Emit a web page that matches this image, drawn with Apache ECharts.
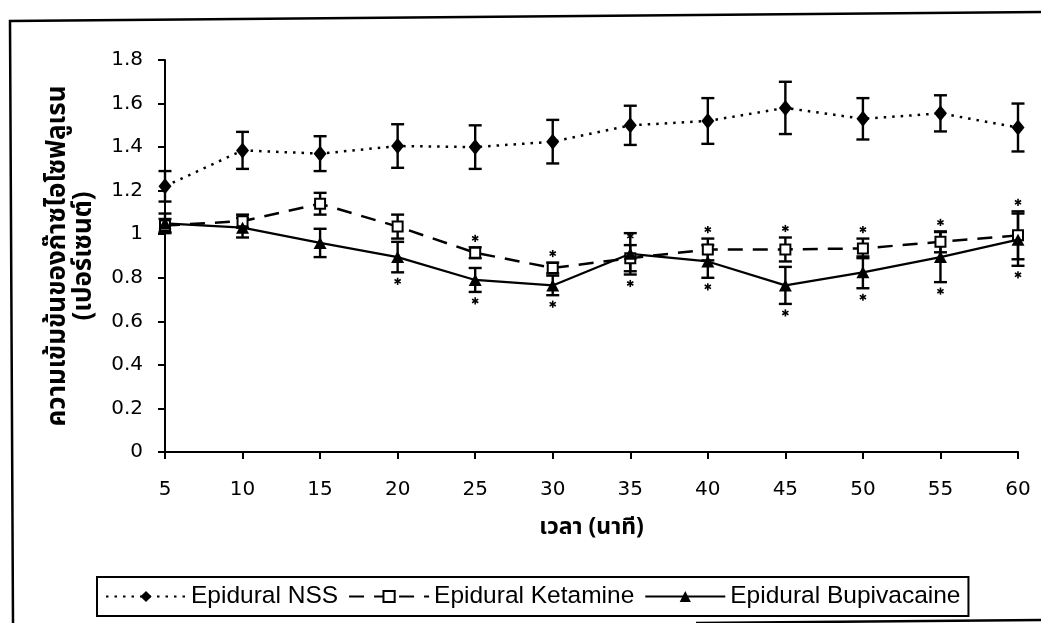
<!DOCTYPE html>
<html>
<head>
<meta charset="utf-8">
<script src="https://cdn.jsdelivr.net/npm/echarts@6/dist/echarts.min.js"></script>
<style>
  html, body { margin: 0; padding: 0; background: #fff; }
  #chart { width: 1041px; height: 623px; }
</style>
</head>
<body>
<div id="chart"></div>
<script>
// Time points (minutes)
const categories = ['5', '10', '15', '20', '25', '30', '35', '40', '45', '50', '55', '60'];

// Mean isoflurane concentration (%) and error (±) per group
const nssMean = [1.22, 1.385, 1.37, 1.405, 1.40, 1.425, 1.50, 1.52, 1.58, 1.53, 1.555, 1.49];
const nssErr  = [0.07, 0.085, 0.08, 0.10, 0.10, 0.10, 0.09, 0.105, 0.12, 0.095, 0.083, 0.11];

const ketMean = [1.04, 1.06, 1.14, 1.035, 0.915, 0.845, 0.89, 0.93, 0.93, 0.935, 0.965, 0.995];
const ketErr  = [0.03, 0.03, 0.05, 0.055, 0.025, 0.025, 0.06, 0.05, 0.055, 0.045, 0.048, 0.11];

const bupMean = [1.05, 1.03, 0.96, 0.895, 0.79, 0.765, 0.91, 0.875, 0.765, 0.825, 0.895, 0.975];
const bupErr  = [0.045, 0.045, 0.065, 0.07, 0.055, 0.045, 0.095, 0.075, 0.085, 0.073, 0.115, 0.12];

// Significance flags (1 = marked with an asterisk)
const ketSig = [0, 0, 0, 0, 1, 1, 1, 1, 1, 1, 1, 1];
const bupSig = [0, 0, 0, 1, 1, 1, 1, 1, 1, 1, 1, 1];

const yTicks = { min: 0, max: 1.8, interval: 0.2 };

const seriesNames = ['Epidural NSS', 'Epidural Ketamine', 'Epidural Bupivacaine'];

function errData(mean, err) {
  return mean.map((m, i) => [i, m - err[i], m + err[i]]);
}

function renderErr(params, api) {
  const x = api.value(0);
  const top = api.coord([x, api.value(2)]);
  const bot = api.coord([x, api.value(1)]);
  const hw = 6.5;
  const st = { stroke: '#000', lineWidth: 2.4 };
  return {
    type: 'group',
    children: [
      { type: 'line', shape: { x1: top[0], y1: top[1], x2: bot[0], y2: bot[1] }, style: st },
      { type: 'line', shape: { x1: top[0] - hw, y1: top[1], x2: top[0] + hw, y2: top[1] }, style: st },
      { type: 'line', shape: { x1: bot[0] - hw, y1: bot[1], x2: bot[0] + hw, y2: bot[1] }, style: st }
    ]
  };
}

// Asterisk above (dir=-1) or below (dir=1) an error bar end
function starData(mean, err, sig, dir) {
  const out = [];
  sig.forEach((s, i) => {
    if (s) out.push([i, dir < 0 ? mean[i] + err[i] : mean[i] - err[i], dir]);
  });
  return out;
}

function renderStar(params, api) {
  const x = api.value(0);
  const p = api.coord([x, api.value(1)]);
  const cx = p[0];
  const cy = p[1] + api.value(2) * 9;
  const r = 3.6;
  const st = { stroke: '#000', lineWidth: 1.6 };
  const kids = [];
  [90, 30, 150].forEach(a => {
    const rad = a * Math.PI / 180;
    const dx = Math.cos(rad) * r, dy = Math.sin(rad) * r;
    kids.push({ type: 'line', shape: { x1: cx - dx, y1: cy - dy, x2: cx + dx, y2: cy + dy }, style: st });
  });
  return { type: 'group', children: kids };
}

const chart = echarts.init(document.getElementById('chart'), null, { renderer: 'canvas' });

const tickFont = { fontFamily: 'DejaVu Sans', fontSize: 20, color: '#000' };
const thaiFont = 'Noto Sans Thai, Noto Sans, sans-serif';

chart.setOption({
  backgroundColor: '#fff',
  animation: false,
  grid: { left: 165, right: 23, top: 60, bottom: 171, containLabel: false },
  xAxis: {
    type: 'category',
    data: categories,
    boundaryGap: false,
    axisLine: { show: true, lineStyle: { color: '#000', width: 2 } },
    axisTick: { show: true, alignWithLabel: true, length: 7, lineStyle: { color: '#000', width: 2 } },
    axisLabel: Object.assign({ margin: 28 }, tickFont),
    splitLine: { show: false },
    name: 'เวลา (นาที)',
    nameLocation: 'middle',
    nameGap: 66,
    nameTextStyle: { fontFamily: thaiFont, fontSize: 23, fontWeight: 'bold', color: '#000' }
  },
  yAxis: {
    type: 'value',
    min: yTicks.min,
    max: yTicks.max,
    interval: yTicks.interval,
    axisLine: { show: true, lineStyle: { color: '#000', width: 2 } },
    axisTick: { show: true, length: 7, lineStyle: { color: '#000', width: 2 } },
    axisLabel: Object.assign({ margin: 22 }, tickFont),
    splitLine: { show: false },
    name: 'ความเข้มข้นของก๊าซไอโซฟลูเรน\n(เปอร์เซนต์)',
    nameLocation: 'middle',
    nameRotate: 90,
    nameGap: 66,
    nameTextStyle: { fontFamily: thaiFont, fontSize: 26, fontWeight: 'bold', color: '#000', lineHeight: 26, align: 'center' }
  },
  legend: {
    data: seriesNames,
    left: 97,
    top: 577,
    orient: 'horizontal',
    padding: [7, 8, 7, 8],
    itemGap: 10,
    itemWidth: 80,
    itemHeight: 14,
    borderColor: '#000',
    borderWidth: 2,
    borderRadius: 0,
    backgroundColor: '#fff',
    selectedMode: false,
    textStyle: { fontFamily: 'Liberation Sans', fontSize: 24.5, color: '#000', padding: [0, 0, 0, 0] }
  },
  graphic: [
    { type: 'polyline', silent: true, shape: { points: [[1041, 12], [10, 21], [13, 623]] }, style: { stroke: '#000', lineWidth: 2.5, fill: null } },
    { type: 'line', silent: true, shape: { x1: 696, y1: 623, x2: 1041, y2: 620 }, style: { stroke: '#000', lineWidth: 2.5 } }
  ],
  series: [
    { type: 'custom', name: 'nss-err', renderItem: renderErr, data: errData(nssMean, nssErr), encode: { x: 0, y: [1, 2] }, z: 1, silent: true },
    { type: 'custom', name: 'ket-err', renderItem: renderErr, data: errData(ketMean, ketErr), encode: { x: 0, y: [1, 2] }, z: 1, silent: true },
    { type: 'custom', name: 'bup-err', renderItem: renderErr, data: errData(bupMean, bupErr), encode: { x: 0, y: [1, 2] }, z: 1, silent: true },
    { type: 'custom', name: 'ket-sig', renderItem: renderStar, data: starData(ketMean, ketErr, ketSig, -1), encode: { x: 0, y: 1 }, z: 1, silent: true },
    { type: 'custom', name: 'bup-sig', renderItem: renderStar, data: starData(bupMean, bupErr, bupSig, 1), encode: { x: 0, y: 1 }, z: 1, silent: true },
    {
      type: 'line', name: seriesNames[0], data: nssMean, z: 3,
      symbol: 'diamond', symbolSize: [13, 16],
      itemStyle: { color: '#000' },
      lineStyle: { color: '#000', width: 2.5, type: [2.5, 6] }
    },
    {
      type: 'line', name: seriesNames[1], data: ketMean, z: 3,
      symbol: 'rect', symbolSize: 10,
      itemStyle: { color: '#fff', borderColor: '#000', borderWidth: 2 },
      lineStyle: { color: '#000', width: 2.5, type: [15, 10] }
    },
    {
      type: 'line', name: seriesNames[2], data: bupMean, z: 3,
      symbol: 'triangle', symbolSize: [13, 12],
      itemStyle: { color: '#000' },
      lineStyle: { color: '#000', width: 2.2, type: 'solid' }
    }
  ]
});
</script>
</body>
</html>
